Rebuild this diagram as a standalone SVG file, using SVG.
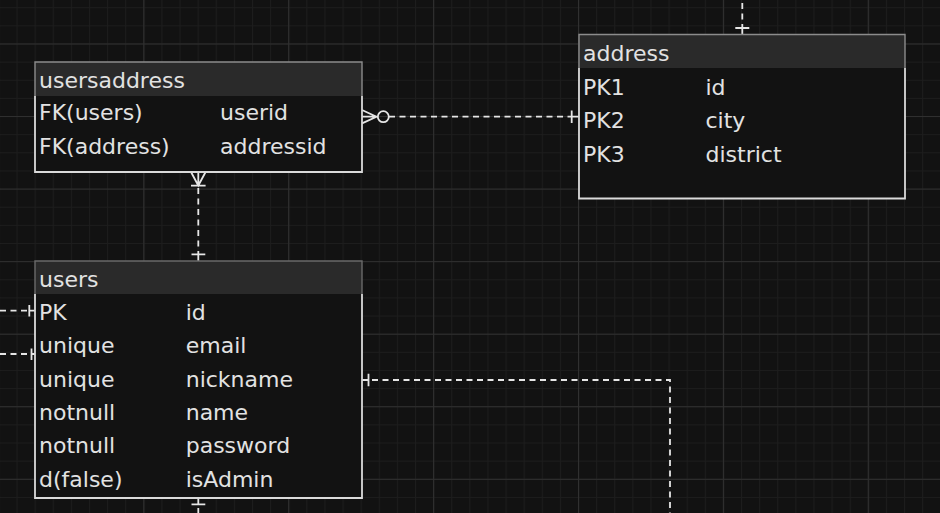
<svg xmlns="http://www.w3.org/2000/svg" width="940" height="513" viewBox="0 0 940 513">
  <defs>
    <pattern id="gmin" patternUnits="userSpaceOnUse" x="143.3" y="43.5" width="18.1125" height="18.1375">
      <path d="M0.5 0 V18.1375 M0 0.5 H18.1125" stroke="#1d1d1d" stroke-width="1" fill="none"/>
    </pattern>
    <pattern id="gmajv" patternUnits="userSpaceOnUse" x="143.3" y="0" width="144.9" height="513">
      <path d="M0.5 0 V513" stroke="#303030" stroke-width="1.2" fill="none"/>
    </pattern>
    <pattern id="gmajh" patternUnits="userSpaceOnUse" x="0" y="43.5" width="940" height="72.55">
      <path d="M0 0.5 H940" stroke="#303030" stroke-width="1.2" fill="none"/>
    </pattern>
    <style>
      .fill { fill: #121212; }
      .hfill { fill: #2a2a2a; }
      .edge { fill: none; stroke: #dadada; stroke-width: 1.8; }
      .hedge { fill: none; stroke: #8c8c8c; stroke-width: 1.4; }
      .t { font-family: "DejaVu Sans", Verdana, sans-serif; font-size: 22px; fill: #e2e2e2; }
      .c { fill: none; stroke: #e6e6e6; stroke-width: 1.8; }
      .d { stroke-dasharray: 6 4.5; }
    </style>
  </defs>

  <rect width="940" height="513" fill="#121212"/>
  <rect width="940" height="513" fill="url(#gmin)"/>
  <rect width="940" height="513" fill="url(#gmajv)"/>
  <rect width="940" height="513" fill="url(#gmajh)"/>

  <g id="connectors">
    <!-- usersaddress -> address -->
    <path class="c" d="M362 110 L376.5 116.7 L362 123.4 M362 116.7 H377.8"/>
    <circle class="c" cx="383.3" cy="116.7" r="5.5" fill="#121212"/>
    <path class="c d" d="M389 116.7 H571.7"/>
    <path class="c" d="M571.7 110.5 V123 M571.7 116.7 H579"/>
    <!-- usersaddress -> users -->
    <path class="c" d="M191 172 L198.3 185.5 L205.6 172 M198.3 172 V185.7 M191 185.7 H205.6"/>
    <path class="c d" d="M198.3 188 V254.3"/>
    <path class="c" d="M191.5 254.3 H205.3 M198.3 254.3 V261"/>
    <!-- address top -->
    <path class="c d" d="M742.3 3 V28"/>
    <path class="c" d="M735.3 28 H749.3 M742.3 28 V34.5"/>
    <!-- users left PK -->
    <path class="c d" d="M0 310.7 H29.3"/>
    <path class="c" d="M29.3 305 V316.5 M29.3 310.7 H35"/>
    <!-- users left unique -->
    <path class="c d" d="M0 354 H31.5"/>
    <path class="c" d="M31.5 348.5 V360 M31.5 354 H35"/>
    <!-- users right nickname -->
    <path class="c" d="M362 380 H368.5 M368.5 373.8 V386.2"/>
    <path class="c d" d="M372 380 H670 V513"/>
    <!-- users bottom -->
    <path class="c" d="M198.3 498 V504.3 M191.5 504.3 H205.3"/>
    <path class="c d" d="M198.3 508 V513"/>
  </g>

  <g id="usersaddress">
    <rect class="fill" x="35" y="62" width="327" height="110"/>
    <rect class="hfill" x="35" y="62" width="327" height="34"/>
    <path class="hedge" d="M35 96 V62 H362 V96"/>
    <path class="edge" d="M35 96 V172 H362 V96"/>
    <text class="t" x="39" y="87.5">usersaddress</text>
    <text class="t" x="39" y="120">FK(users)</text>
    <text class="t" x="220" y="120">userid</text>
    <text class="t" x="39" y="154">FK(address)</text>
    <text class="t" x="220" y="154">addressid</text>
  </g>

  <g id="address">
    <rect class="fill" x="579" y="34.5" width="326" height="164"/>
    <rect class="hfill" x="579" y="34.5" width="326" height="33.5"/>
    <path class="hedge" d="M579 68 V34.5 H905 V68"/>
    <path class="edge" d="M579 68 V198.5 H905 V68"/>
    <text class="t" x="583" y="61">address</text>
    <text class="t" x="583" y="94.5">PK1</text>
    <text class="t" x="705.5" y="94.5">id</text>
    <text class="t" x="583" y="128">PK2</text>
    <text class="t" x="705.5" y="128">city</text>
    <text class="t" x="583" y="161.5">PK3</text>
    <text class="t" x="705.5" y="161.5">district</text>
  </g>

  <g id="users">
    <rect class="fill" x="35" y="261" width="327" height="237"/>
    <rect class="hfill" x="35" y="261" width="327" height="33"/>
    <path class="hedge" d="M35 294 V261 H362 V294" style="stroke:#6a6a6a"/>
    <path class="edge" d="M35 294 V498 H362 V294"/>
    <text class="t" x="39" y="286.5">users</text>
    <text class="t" x="39" y="320">PK</text>
    <text class="t" x="185.7" y="320">id</text>
    <text class="t" x="39" y="353.3">unique</text>
    <text class="t" x="185.7" y="353.3">email</text>
    <text class="t" x="39" y="386.7">unique</text>
    <text class="t" x="185.7" y="386.7">nickname</text>
    <text class="t" x="39" y="420">notnull</text>
    <text class="t" x="185.7" y="420">name</text>
    <text class="t" x="39" y="453.3">notnull</text>
    <text class="t" x="185.7" y="453.3">password</text>
    <text class="t" x="39" y="486.7">d(false)</text>
    <text class="t" x="185.7" y="486.7">isAdmin</text>
  </g>
</svg>
